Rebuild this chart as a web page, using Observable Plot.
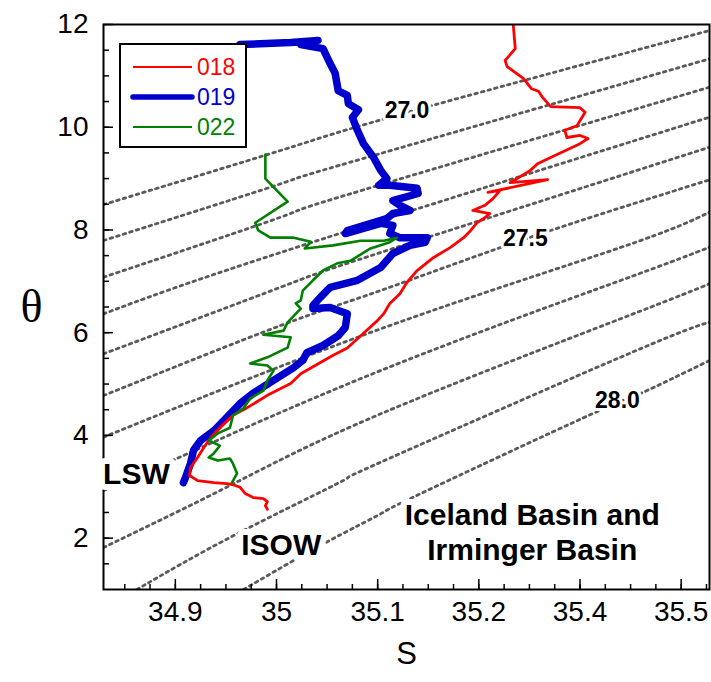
<!DOCTYPE html>
<html><head><meta charset="utf-8">
<script src="https://cdn.jsdelivr.net/npm/d3@7"></script>
<script src="https://cdn.jsdelivr.net/npm/@observablehq/plot@0.6"></script>
<style>
body{margin:0;background:#fff;}
#wrap{position:relative;width:711px;height:682px;}
#legend{position:absolute;left:119px;top:43px;width:124px;height:101px;border:2px solid #000;background:#fff;}
</style></head><body><div id="wrap"></div>
<script>
// ---- data ----
const seriesNames = ["018", "019", "022"];
const seriesColors = ["#ff0000", "#0000cc", "#008000"];
const seriesWidths = [2.8, 7.5, 2.6];

// [S, theta]
const cast018 = [[35.234,12.00],[35.236,11.53],[35.226,11.30],[35.228,11.18],[35.244,10.95],[35.252,10.75],[35.259,10.70],[35.263,10.58],[35.271,10.40],[35.300,10.38],[35.305,10.29],[35.297,10.03],[35.285,9.94],[35.287,9.80],[35.300,9.84],[35.308,9.78],[35.300,9.68],[35.271,9.41],[35.258,9.29],[35.251,9.16],[35.231,8.92],[35.268,8.98],[35.209,8.73],[35.221,8.77],[35.214,8.61],[35.206,8.48],[35.194,8.38],[35.211,8.32],[35.206,8.24],[35.198,8.14],[35.192,7.99],[35.185,7.85],[35.172,7.66],[35.155,7.46],[35.139,7.21],[35.129,6.98],[35.122,6.76],[35.112,6.57],[35.106,6.37],[35.100,6.24],[35.086,5.99],[35.070,5.70],[35.056,5.56],[35.024,5.20],[35.014,5.01],[34.991,4.78],[34.971,4.54],[34.957,4.39],[34.944,4.15],[34.935,3.96],[34.928,3.76],[34.922,3.57],[34.915,3.37],[34.914,3.22],[34.922,3.12],[34.938,3.08],[34.951,3.06],[34.957,3.04],[34.964,2.99],[34.969,2.87],[34.977,2.79],[34.987,2.77],[34.991,2.71],[34.989,2.63],[34.991,2.56]];
const cast019 = [[34.964,11.61],[35.014,11.65],[35.041,11.69],[35.024,11.61],[35.046,11.53],[35.053,11.24],[35.058,11.05],[35.061,10.71],[35.070,10.62],[35.071,10.46],[35.081,10.34],[35.075,10.19],[35.080,9.94],[35.086,9.68],[35.096,9.41],[35.103,9.16],[35.109,9.00],[35.101,8.87],[35.112,8.87],[35.139,8.81],[35.140,8.71],[35.115,8.57],[35.122,8.48],[35.132,8.38],[35.115,8.32],[35.109,8.22],[35.070,7.99],[35.068,7.93],[35.103,8.13],[35.115,8.09],[35.112,7.93],[35.122,7.85],[35.149,7.85],[35.147,7.76],[35.132,7.70],[35.115,7.54],[35.103,7.27],[35.080,7.02],[35.053,6.88],[35.043,6.68],[35.036,6.53],[35.036,6.47],[35.053,6.49],[35.070,6.37],[35.068,6.10],[35.061,5.94],[35.046,5.75],[35.030,5.61],[35.026,5.46],[35.017,5.32],[34.997,5.07],[34.977,4.82],[34.964,4.62],[34.951,4.35],[34.938,4.09],[34.925,3.90],[34.918,3.71],[34.915,3.45],[34.910,3.18],[34.908,3.08]];
const cast022 = [[34.989,9.47],[34.989,9.00],[35.011,8.55],[34.979,8.14],[34.982,7.99],[34.994,7.85],[35.017,7.85],[35.034,7.77],[35.028,7.64],[35.056,7.70],[35.083,7.79],[35.106,7.79],[35.119,7.85],[35.112,7.76],[35.093,7.64],[35.073,7.40],[35.060,7.35],[35.046,7.21],[35.036,7.02],[35.026,6.82],[35.024,6.63],[35.019,6.57],[35.024,6.47],[35.011,6.20],[35.007,6.04],[34.987,5.96],[35.014,5.91],[35.011,5.71],[34.991,5.52],[34.974,5.40],[34.991,5.36],[34.997,5.26],[34.991,5.07],[34.987,4.87],[34.974,4.72],[34.967,4.52],[34.957,4.39],[34.954,4.15],[34.942,4.04],[34.933,3.90],[34.944,3.80],[34.938,3.65],[34.933,3.57],[34.942,3.51],[34.954,3.55],[34.957,3.45],[34.961,3.26],[34.956,3.08]];

// isopycnals sigma-theta 27.0 ... 28.0
const isopycnals = [
  [[34.829,8.495],[35.004,9.547],[35.129,10.287],[35.428,11.883]],
  [[34.829,7.794],[35.004,8.898],[35.073,9.319],[35.428,11.332]],
  [[34.829,7.080],[35.004,8.248],[35.073,8.704],[35.428,10.779]],
  [[34.829,6.367],[35.004,7.561],[35.428,10.195]],
  [[34.829,5.588],[35.004,6.885],[35.103,7.561],[35.428,9.611]],
  [[34.829,4.776],[35.004,6.139],[35.103,6.821],[35.246,7.824],[35.428,8.976]],
  [[34.829,3.965],[35.103,6.075],[35.340,7.658],[35.428,8.345]],
  [[34.829,2.927],[34.897,3.511],[35.103,5.263],[35.340,7.016],[35.428,7.664]],
  [[34.829,1.817],[34.954,3.024],[35.103,4.420],[35.340,6.270],[35.428,6.951]],
  [[34.862,1.0],[34.961,2.084],[35.066,3.121],[35.103,3.478],[35.340,5.522],[35.428,6.204]],
  [[34.9675,1.0],[35.0465,1.889],[35.103,2.473],[35.142,2.862],[35.312,4.420],[35.3625,4.841],[35.428,5.458]]
];
const isoLabelText = ["27.0", "27.5", "28.0"];
const isoLabelS = [35.129, 35.246, 35.337];
const isoLabelT = [10.316, 7.824, 4.679];

const regionText = ["LSW", "ISOW", "Iceland Basin and\nIrminger Basin"];
const regionS = [34.8615, 35.0047, 35.2528];
const regionT = [3.267, 1.889, 2.128];

const xDomain = [34.829, 35.428];
const yDomain = [1, 12];
const xTicks = [34.9, 35.0, 35.1, 35.2, 35.3, 35.4];
const xTickLabels = ["34.9", "35", "35.1", "35.2", "35.4", "35.5"];
const yTicks = [2, 4, 6, 8, 10, 12];
const xMinor = d3.range(34.85, 35.43, 0.025);
const yMinor = d3.range(1.5, 12, 0.5);

// ---- layout ----
const W = 711, H = 682, mL = 103, mR = 2, mT = 24, mB = 93;
const innerW = W - mL - mR, innerH = H - mT - mB;
const sansFont = "'Liberation Sans', Arial, sans-serif";

const casts = [cast018, cast019, cast022];
const drawOrder = [1, 0, 2];
const castMarks = drawOrder.map(i => Plot.line(casts[i], {
  x: d => d[0], y: d => d[1], stroke: seriesColors[i], strokeWidth: seriesWidths[i],
  strokeLinejoin: "round", strokeLinecap: "round", clip: true
}));

const isoMarks = isopycnals.map(line => Plot.line(line, {
  x: d => d[0], y: d => d[1], stroke: "#5a5a5a", strokeWidth: 2.8,
  strokeDasharray: "2.6,4.2", curve: "natural", clip: true
}));

const isoLabels = isoLabelText.map((t, i) => ({t, S: isoLabelS[i], T: isoLabelT[i]}));
const regions = regionText.map((t, i) => ({t, S: regionS[i], T: regionT[i]}));

const chart = Plot.plot({
  width: W, height: H,
  marginLeft: mL, marginRight: mR, marginTop: mT, marginBottom: mB,
  style: {fontFamily: sansFont, fontSize: "28px", color: "#000", background: "#fff", overflow: "visible"},
  x: {domain: xDomain},
  y: {domain: yDomain},
  marks: [
    ...isoMarks,
    ...castMarks,
    Plot.ruleX(xMinor, {insetTop: innerH - 5, stroke: "#000", strokeWidth: 1.5}),
    Plot.ruleX(xTicks, {insetTop: innerH - 10, stroke: "#000", strokeWidth: 1.5}),
    Plot.ruleY(yMinor, {insetRight: innerW - 6, stroke: "#000", strokeWidth: 1.5}),
    Plot.ruleY(yTicks, {insetRight: innerW - 10, stroke: "#000", strokeWidth: 1.5}),
    Plot.frame({stroke: "#000", strokeWidth: 2}),
    Plot.axisX(xTicks, {tickSize: 0, tickPadding: 12, label: null, fontSize: 28, fill: "#000",
      tickFormat: d => xTickLabels[xTicks.findIndex(v => Math.abs(v - d) < 1e-9)]}),
    Plot.axisY(yTicks, {tickSize: 0, tickPadding: 15, label: null, fontSize: 28, fill: "#000", tickFormat: d => String(d)}),
    Plot.text(isoLabels, {x: "S", y: "T", text: "t", fontWeight: "bold", fontSize: 23,
      fill: "#000", stroke: "#fff", strokeWidth: 6, paintOrder: "stroke"}),
    Plot.text(regions, {x: "S", y: "T", text: "t", fontWeight: "bold", fontSize: 30, lineHeight: 1.15,
      fill: "#000", stroke: "#fff", strokeWidth: 12, paintOrder: "stroke"}),
    Plot.text(["S"], {frameAnchor: "bottom", dy: 74, text: d => d, fontSize: 31}),
    Plot.text(["θ"], {frameAnchor: "left", dx: -83, text: d => d, fontSize: 46,
      fontFamily: "'Liberation Serif', 'Times New Roman', serif"})
  ]
});

const wrap = document.getElementById("wrap");
wrap.appendChild(chart);

// legend (drawn over the plot, upper left)
const legend = document.createElement("div");
legend.id = "legend";
wrap.appendChild(legend);
const lsvg = d3.select(legend).append("svg").attr("width", 124).attr("height", 101);
const rowY = [22, 52, 82];
seriesNames.forEach((name, i) => {
  lsvg.append("line").attr("x1", 12).attr("x2", 71).attr("y1", rowY[i]).attr("y2", rowY[i])
    .attr("stroke", seriesColors[i]).attr("stroke-width", i === 1 ? 5.5 : 2).attr("stroke-linecap", i === 1 ? "round" : "butt");
  lsvg.append("text").attr("x", 76).attr("y", rowY[i]).attr("dy", "0.35em")
    .attr("fill", seriesColors[i]).attr("font-size", 23)
    .attr("font-family", sansFont).text(name);
});
</script></body></html>
